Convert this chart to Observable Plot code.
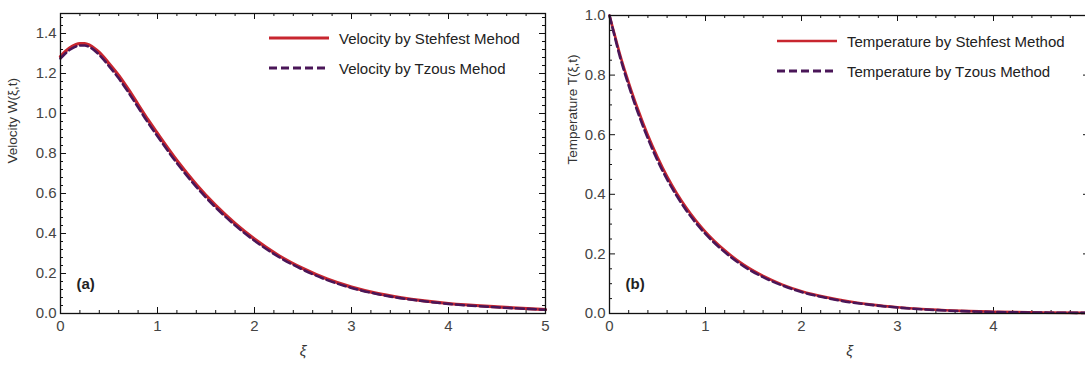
<!DOCTYPE html>
<html>
<head>
<meta charset="utf-8">
<script src="https://cdn.jsdelivr.net/npm/d3@7"></script>
<script src="https://cdn.jsdelivr.net/npm/@observablehq/plot@0.6"></script>
<style>
  html, body { margin: 0; padding: 0; background: #fff; }
  #figure { position: relative; width: 1085px; height: 365px; overflow: hidden; background: #fff;
            font-family: "Liberation Sans", Arial, sans-serif; }
  .panel { position: absolute; top: 0; }
  .legend { position: absolute; font-size: 15px; color: #222; }
  .legend .item { position: absolute; display: flex; align-items: center; white-space: nowrap; height: 20px; }
  .legend svg { display: block; margin-right: 10px; }
</style>
</head>
<body>
<div id="figure"></div>
<script>
// Similarity variable ξ and the computed profiles
const xi = [0, 0.05, 0.1, 0.15, 0.2, 0.25, 0.3, 0.4, 0.5, 0.6, 0.7, 0.8, 0.9, 1.0, 1.2, 1.4, 1.6, 1.8, 2.0, 2.25, 2.5, 2.75, 3.0, 3.25, 3.5, 3.75, 4.0, 4.5, 5.0];

const velocityStehfest = [1.285, 1.31, 1.33, 1.343, 1.35, 1.35, 1.342, 1.305, 1.25, 1.19, 1.12, 1.045, 0.97, 0.9, 0.765, 0.645, 0.54, 0.45, 0.372, 0.29, 0.225, 0.172, 0.132, 0.102, 0.08, 0.063, 0.05, 0.033, 0.02];
const velocityTzou     = [1.275, 1.3, 1.32, 1.333, 1.34, 1.34, 1.332, 1.293, 1.237, 1.176, 1.106, 1.031, 0.956, 0.886, 0.752, 0.633, 0.53, 0.441, 0.364, 0.283, 0.219, 0.167, 0.128, 0.099, 0.077, 0.061, 0.048, 0.031, 0.019];

const temperatureStehfest = [1.0, 0.94, 0.88, 0.825, 0.775, 0.727, 0.682, 0.598, 0.525, 0.46, 0.404, 0.355, 0.312, 0.274, 0.212, 0.163, 0.126, 0.097, 0.075, 0.055, 0.04, 0.029, 0.021, 0.015, 0.011, 0.008, 0.006, 0.003, 0.002];
const temperatureTzou     = [1.0, 0.935, 0.872, 0.816, 0.765, 0.716, 0.671, 0.587, 0.514, 0.45, 0.395, 0.346, 0.304, 0.267, 0.206, 0.158, 0.122, 0.094, 0.072, 0.053, 0.038, 0.028, 0.02, 0.014, 0.01, 0.007, 0.005, 0.003, 0.002];

// Axis ticks
const xTicks = [0, 1, 2, 3, 4, 5];
const velocityXLabels = [0, 1, 2, 3, 4, 5];
const temperatureXLabels = [0, 1, 2, 3, 4];
const velocityTicks = [0, 0.2, 0.4, 0.6, 0.8, 1.0, 1.2, 1.4];
const temperatureTicks = [0, 0.2, 0.4, 0.6, 0.8, 1.0];

const legendVelocity = ["Velocity by Stehfest Mehod", "Velocity by Tzous Mehod"];
const legendTemperature = ["Temperature by Stehfest Method", "Temperature by Tzous Method"];

const RED = "#c8262f";
const PURPLE = "#4a1658";
const DASH = "8,4";

function panel({left, width, height, margin, yDomain, yTicks, yMinorStep, xLabels, solid, dashed, yLabel, tag, redWidth}) {
  const innerW = width - margin.left - margin.right;
  const innerH = height - margin.top - margin.bottom;
  const rowsSolid = xi.map((x, i) => ({x, y: solid[i]}));
  const rowsDashed = xi.map((x, i) => ({x, y: dashed[i]}));
  const xMinor = d3.range(0, 5.0001, 0.2).filter(v => Math.abs(v - Math.round(v)) > 1e-6);
  const yMinor = d3.range(0, yDomain[1] + 1e-6, yMinorStep).filter(v => !yTicks.some(t => Math.abs(t - v) < 1e-6));
  const MAJ = 6, MIN = 3;
  const tickStyle = {stroke: "#111", strokeWidth: 1};
  const svg = Plot.plot({
    width, height,
    marginLeft: margin.left, marginRight: margin.right, marginTop: margin.top, marginBottom: margin.bottom,
    style: {fontFamily: "'Liberation Sans', Arial, sans-serif", fontSize: "15px", color: "#333", background: "transparent"},
    x: {domain: [0, 5]},
    y: {domain: yDomain},
    marks: [
      // inward ticks on all four sides
      Plot.tickX(xTicks, {x: d => d, insetTop: innerH - MAJ, ...tickStyle}),
      Plot.tickX(xTicks, {x: d => d, insetBottom: innerH - MAJ, ...tickStyle}),
      Plot.tickX(xMinor, {x: d => d, insetTop: innerH - MIN, ...tickStyle}),
      Plot.tickX(xMinor, {x: d => d, insetBottom: innerH - MIN, ...tickStyle}),
      Plot.tickY(yTicks, {y: d => d, insetRight: innerW - MAJ, ...tickStyle}),
      Plot.tickY(yTicks, {y: d => d, insetLeft: innerW - MAJ, ...tickStyle}),
      Plot.tickY(yMinor, {y: d => d, insetRight: innerW - MIN, ...tickStyle}),
      Plot.tickY(yMinor, {y: d => d, insetLeft: innerW - MIN, ...tickStyle}),
      Plot.axisX({ticks: xLabels, tickSize: 0, tickPadding: 7, label: null, tickFormat: d3.format("d"), fill: "#444", fontSize: 15}),
      Plot.axisY({ticks: yTicks, tickSize: 0, tickPadding: 4, label: null, tickFormat: d3.format(".1f"), fill: "#444", fontSize: 15}),
      Plot.line(rowsSolid, {x: "x", y: "y", stroke: RED, strokeWidth: redWidth, curve: "monotone-x"}),
      Plot.line(rowsDashed, {x: "x", y: "y", stroke: PURPLE, strokeWidth: 2.6, strokeDasharray: DASH, curve: "monotone-x"}),
      Plot.frame({stroke: "#111", strokeWidth: 1.3}),
      Plot.text([yLabel], {text: d => d, frameAnchor: "left", dx: -margin.left + 12, rotate: -90, fontSize: 13.5, fill: "#333"}),
      Plot.text(["ξ"], {text: d => d, frameAnchor: "bottom", dy: 42, fontSize: 15, fontStyle: "italic", fill: "#333"}),
      Plot.text([tag], {text: d => d, frameAnchor: "bottom-left", dx: 16, dy: -25, fontSize: 15, fontWeight: "bold", fill: "#222", textAnchor: "start"})
    ]
  });
  svg.classList.add("panel");
  svg.style.left = left + "px";
  return svg;
}

function legend({left, top, labels, redWidth}) {
  const box = document.createElement("div");
  box.className = "legend";
  box.style.left = left + "px";
  box.style.top = top + "px";
  const styles = [
    {stroke: RED, width: redWidth, dash: null},
    {stroke: PURPLE, width: 2.8, dash: DASH}
  ];
  labels.forEach((label, i) => {
    const item = document.createElement("div");
    item.className = "item";
    item.style.top = (i * 30) + "px";
    const s = styles[i];
    item.innerHTML = `<svg width="60" height="8"><line x1="0" x2="60" y1="4" y2="4" stroke="${s.stroke}" stroke-width="${s.width}" ${s.dash ? `stroke-dasharray="${s.dash}"` : ""}/></svg><span>${label}</span>`;
    box.appendChild(item);
  });
  return box;
}

const fig = document.getElementById("figure");

fig.appendChild(panel({
  left: 0, width: 560, height: 365,
  margin: {left: 60, right: 15, top: 13, bottom: 52},
  yDomain: [0, 1.5], yTicks: velocityTicks, yMinorStep: 0.04, xLabels: velocityXLabels,
  solid: velocityStehfest, dashed: velocityTzou,
  yLabel: "Velocity W(ξ,t)", tag: "(a)", redWidth: 3.2
}));

fig.appendChild(panel({
  left: 560, width: 545, height: 365,
  margin: {left: 49, right: 16, top: 15, bottom: 52},
  yDomain: [0, 1], yTicks: temperatureTicks, yMinorStep: 0.05, xLabels: temperatureXLabels,
  solid: temperatureStehfest, dashed: temperatureTzou,
  yLabel: "Temperature T(ξ,t)", tag: "(b)", redWidth: 2.6
}));

fig.appendChild(legend({left: 269, top: 28, labels: legendVelocity, redWidth: 3.2}));
fig.appendChild(legend({left: 777, top: 31, labels: legendTemperature, redWidth: 2.4}));
</script>
</body>
</html>
